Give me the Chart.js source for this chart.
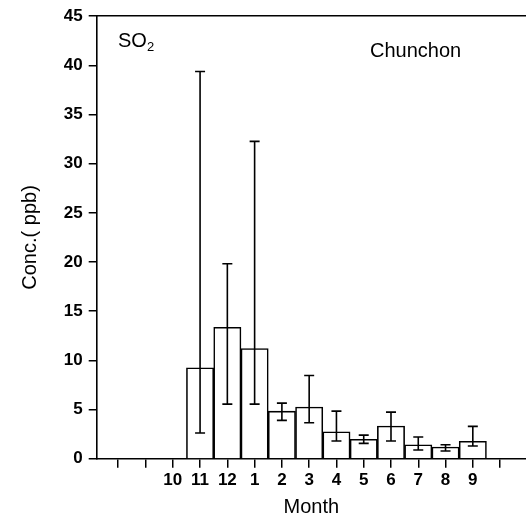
<!DOCTYPE html>
<html>
<head>
<meta charset="utf-8">
<script src="https://cdn.jsdelivr.net/npm/chart.js@4"></script>
<style>
  html, body { margin: 0; padding: 0; background: #fff; }
  #wrap { width: 526px; height: 520px; }
</style>
</head>
<body>
<div id="wrap"><canvas id="so2-chart" width="526" height="520"></canvas></div>
<script>
// month slots on the x axis (blank slots carry no label)
const months = ['', '', '10', '11', '12', '1', '2', '3', '4', '5', '6', '7', '8', '9', ''];
// mean SO2 concentration (ppb)
const means = [null, null, null, 9.24, 13.37, 11.2, 4.84, 5.25, 2.74, 1.97, 3.32, 1.42, 1.19, 1.77, null];
// error bar ends
const errHigh = [null, null, null, 39.38, 19.83, 32.27, 5.65, 8.46, 4.84, 2.4, 4.74, 2.2, 1.42, 3.29, null];
const errLow = [null, null, null, 2.61, 5.55, 5.55, 3.9, 3.65, 1.8, 1.56, 1.8, 0.88, 0.78, 1.29, null];
const yTicks = [0, 5, 10, 15, 20, 25, 30, 35, 40, 45];

const errorBars = {
    id: 'errorBars',
    afterDatasetsDraw(chart) {
        const ctx = chart.ctx;
        const x = chart.scales.x;
        const y = chart.scales.y;
        ctx.save();
        ctx.strokeStyle = '#000';
        ctx.lineWidth = 1.6;
        months.forEach((m, i) => {
            if (errHigh[i] == null) return;
            const px = x.getPixelForValue(i);
            const top = y.getPixelForValue(errHigh[i]);
            const bot = y.getPixelForValue(errLow[i]);
            ctx.beginPath();
            ctx.moveTo(px, top);
            ctx.lineTo(px, bot);
            ctx.moveTo(px - 5, top);
            ctx.lineTo(px + 5, top);
            ctx.moveTo(px - 5, bot);
            ctx.lineTo(px + 5, bot);
            ctx.stroke();
        });
        ctx.restore();
    }
};

const labels = {
    id: 'labels',
    afterDraw(chart) {
        const ctx = chart.ctx;
        ctx.save();
        ctx.fillStyle = '#000';
        ctx.textBaseline = 'alphabetic';
        ctx.textAlign = 'left';
        ctx.font = '20px "Liberation Sans", Arial, sans-serif';
        ctx.fillText('SO', 118, 47);
        const w = ctx.measureText('SO').width;
        ctx.font = '13px "Liberation Sans", Arial, sans-serif';
        ctx.fillText('2', 118 + w, 51);
        ctx.font = '20px "Liberation Sans", Arial, sans-serif';
        ctx.fillText('Chunchon', 370, 57);
        ctx.restore();
    }
};

const ctx = document.getElementById('so2-chart').getContext('2d');

new Chart(ctx, {
    type: 'bar',
    data: {
        datasets: [{
            data: months.map((m, i) => ({ x: i, y: means[i] })),
            backgroundColor: '#fff',
            borderColor: '#000',
            borderWidth: 1.6,
            barPercentage: 1,
            categoryPercentage: 1
        }]
    },
    options: {
        responsive: false,
        animation: false,
        layout: { padding: 0 },
        plugins: {
            legend: { display: false },
            tooltip: { enabled: false }
        },
        scales: {
            x: {
                type: 'linear',
                position: 'bottom',
                offset: false,
                min: -0.79,
                max: 14.95,
                afterBuildTicks: (scale) => {
                    scale.ticks = months.map((m, i) => ({ value: i }));
                },
                afterFit: (scale) => { scale.height = 61.3; },
                grid: { offset: false, drawOnChartArea: false, drawTicks: true, tickLength: 9, color: '#000', lineWidth: 1.5 },
                border: { color: '#000', width: 1.6 },
                ticks: {
                    padding: 2,
                    maxRotation: 0,
                    autoSkip: false,
                    color: '#000',
                    font: { family: '"Liberation Sans", Arial, sans-serif', size: 17, weight: 'bold' },
                    callback: (value) => months[value] || ''
                },
                title: {
                    display: true,
                    text: 'Month',
                    color: '#000',
                    font: { family: '"Liberation Sans", Arial, sans-serif', size: 20 },
                    padding: { top: 0, bottom: 1 }
                }
            },
            xTop: {
                type: 'linear',
                position: 'top',
                offset: false,
                afterFit: (scale) => { scale.height = 15.3; },
                grid: { display: false },
                border: { color: '#000', width: 1.6 },
                ticks: { display: false }
            },
            y: {
                min: 0,
                max: 45,
                afterBuildTicks: (scale) => {
                    scale.ticks = yTicks.map(v => ({ value: v }));
                },
                afterFit: (scale) => { scale.width = 96.7; },
                grid: { drawOnChartArea: false, drawTicks: true, tickLength: 8, color: '#000', lineWidth: 1.5 },
                border: { color: '#000', width: 1.6 },
                ticks: {
                    padding: 6,
                    color: '#000',
                    font: { family: '"Liberation Sans", Arial, sans-serif', size: 17, weight: 'bold' }
                },
                title: {
                    display: true,
                    text: 'Conc.( ppb)',
                    color: '#000',
                    font: { family: '"Liberation Sans", Arial, sans-serif', size: 20 },
                    padding: { top: 18, bottom: 0 }
                }
            }
        }
    },
    plugins: [errorBars, labels]
});
</script>
</body>
</html>
